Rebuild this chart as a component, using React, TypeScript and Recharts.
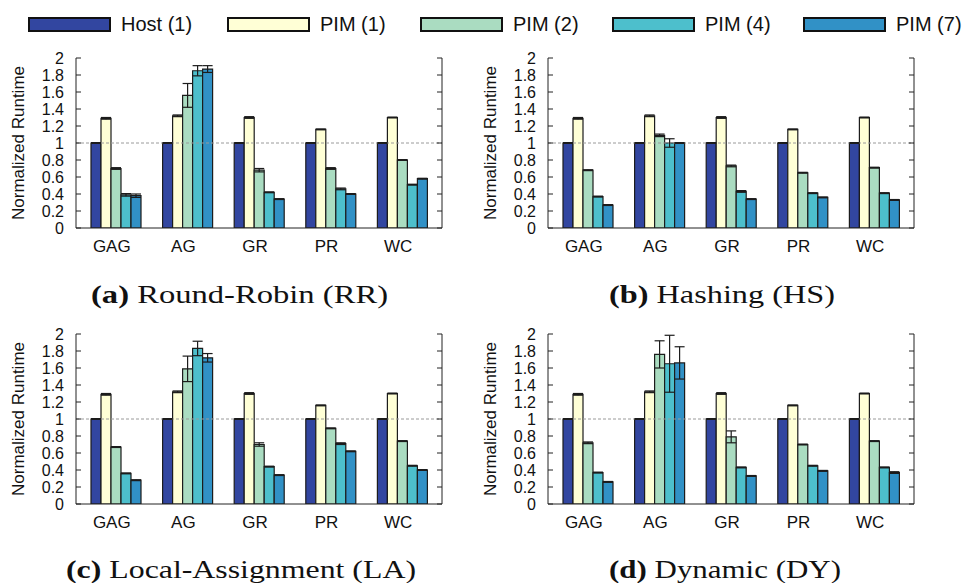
// Normalized runtime of four scheduling policies, 2x2 grid of grouped bar charts
import { BarChart, Bar, XAxis, YAxis, ErrorBar, ReferenceLine, Label } from 'recharts'

const SANS = '"Liberation Sans", Arial, Helvetica, sans-serif'
const SERIF = '"Liberation Serif", "Times New Roman", serif'

const categories = ['GAG', 'AG', 'GR', 'PR', 'WC']
const seriesKeys = ['host', 'pim1', 'pim2', 'pim4', 'pim7']
const seriesNames = ['Host (1)', 'PIM (1)', 'PIM (2)', 'PIM (4)', 'PIM (7)']
const seriesColors = ['#3246A0', '#FFFFD6', '#AADCC1', '#4DBFCC', '#3191C6']

const yTicks = [0, 0.2, 0.4, 0.6, 0.8, 1, 1.2, 1.4, 1.6, 1.8, 2]
const yTickLabels = ['0', '0.2', '0.4', '0.6', '0.8', '1', '1.2', '1.4', '1.6', '1.8', '2']

// (a) Round-Robin
const rrHost = [1, 1, 1, 1, 1]
const rrPim1 = [1.29, 1.32, 1.30, 1.16, 1.30]
const rrPim2 = [0.70, 1.56, 0.68, 0.70, 0.80]
const rrPim4 = [0.39, 1.85, 0.42, 0.46, 0.51]
const rrPim7 = [0.38, 1.87, 0.34, 0.40, 0.58]
const rrErr2 = [0.01, 0.14, 0.02, 0.01, 0.005]
const rrErr4 = [0.015, 0.06, 0.005, 0.01, 0.005]
const rrErr7 = [0.02, 0.04, 0.005, 0.005, 0.005]

// (b) Hashing
const hsHost = [1, 1, 1, 1, 1]
const hsPim1 = [1.29, 1.32, 1.30, 1.16, 1.30]
const hsPim2 = [0.68, 1.09, 0.73, 0.65, 0.71]
const hsPim4 = [0.37, 1.00, 0.43, 0.41, 0.41]
const hsPim7 = [0.27, 1.00, 0.34, 0.36, 0.33]
const hsErr2 = [0.005, 0.015, 0.01, 0.005, 0.005]
const hsErr4 = [0.005, 0.05, 0.01, 0.005, 0.005]
const hsErr7 = [0.005, 0.005, 0.005, 0.005, 0.005]

// (c) Local-Assignment
const laHost = [1, 1, 1, 1, 1]
const laPim1 = [1.29, 1.32, 1.30, 1.16, 1.30]
const laPim2 = [0.67, 1.59, 0.70, 0.89, 0.74]
const laPim4 = [0.36, 1.83, 0.44, 0.71, 0.45]
const laPim7 = [0.28, 1.72, 0.34, 0.62, 0.40]
const laErr2 = [0.005, 0.15, 0.02, 0.005, 0.005]
const laErr4 = [0.005, 0.085, 0.005, 0.01, 0.005]
const laErr7 = [0.005, 0.05, 0.005, 0.005, 0.005]

// (d) Dynamic
const dyHost = [1, 1, 1, 1, 1]
const dyPim1 = [1.29, 1.32, 1.30, 1.16, 1.30]
const dyPim2 = [0.72, 1.76, 0.79, 0.70, 0.74]
const dyPim4 = [0.37, 1.65, 0.43, 0.45, 0.43]
const dyPim7 = [0.26, 1.66, 0.33, 0.39, 0.37]
const dyErr2 = [0.01, 0.16, 0.07, 0.005, 0.005]
const dyErr4 = [0.005, 0.335, 0.005, 0.005, 0.005]
const dyErr7 = [0.005, 0.19, 0.005, 0.005, 0.01]

const hostErr = [0.005, 0.005, 0.005, 0.005, 0.005]
const pim1Err = [0.01, 0.01, 0.01, 0.005, 0.005]

function buildRows(vals: number[][], errs: number[][]) {
  return categories.map((cat, i) => {
    const row: Record<string, number | string> = { cat }
    seriesKeys.forEach((k, s) => {
      row[k] = vals[s][i]
      row[k + 'Err'] = errs[s][i]
    })
    return row
  })
}

const panels = [
  { tag: '(a)', title: ' Round-Robin (RR)', capX: 91, capW: 297,
    rows: buildRows([rrHost, rrPim1, rrPim2, rrPim4, rrPim7], [hostErr, pim1Err, rrErr2, rrErr4, rrErr7]) },
  { tag: '(b)', title: ' Hashing (HS)', capX: 609, capW: 226,
    rows: buildRows([hsHost, hsPim1, hsPim2, hsPim4, hsPim7], [hostErr, pim1Err, hsErr2, hsErr4, hsErr7]) },
  { tag: '(c)', title: ' Local-Assignment (LA)', capX: 66, capW: 350,
    rows: buildRows([laHost, laPim1, laPim2, laPim4, laPim7], [hostErr, pim1Err, laErr2, laErr4, laErr7]) },
  { tag: '(d)', title: ' Dynamic (DY)', capX: 609, capW: 232,
    rows: buildRows([dyHost, dyPim1, dyPim2, dyPim4, dyPim7], [hostErr, pim1Err, dyErr2, dyErr4, dyErr7]) },
]

// layout (chart-local px)
const CW = 460
const CH = 250
const PLOT_L = 76
const PLOT_R = 442
const PLOT_T = 28
const PLOT_H = 170
const legendLeft = [28, 227, 420, 612, 803]

function YTick(props: any) {
  const { y, payload } = props
  const idx = yTicks.findIndex(t => Math.abs(t - payload.value) < 1e-9)
  return (
    <g>
      <line x1={PLOT_L} x2={PLOT_L + 5} y1={y} y2={y} stroke="#222" strokeWidth={1} />
      <line x1={PLOT_R - 5} x2={PLOT_R} y1={y} y2={y} stroke="#222" strokeWidth={1} />
      <text x={64} y={y} dy="0.36em" textAnchor="end" fontSize={16} fontFamily={SANS} fill="#111">
        {yTickLabels[idx]}
      </text>
    </g>
  )
}

function Panel({ rows }: { rows: Record<string, number | string>[] }) {
  return (
    <BarChart width={CW} height={CH} data={rows}
              margin={{ top: PLOT_T, right: CW - PLOT_R - 1, bottom: CH - PLOT_T - PLOT_H - 30, left: 0 }}
              barCategoryGap={10} barGap={0}>
      <XAxis dataKey="cat" tickLine={false} tickSize={0} tickMargin={12} height={30}
             padding={{ left: 5, right: 3 }} axisLine={{ stroke: '#222', strokeWidth: 1 }}
             tick={{ fontSize: 17, fill: '#111', fontFamily: SANS, dx: -5 }} interval={0} />
      <XAxis xAxisId="top" dataKey="cat" orientation="top" height={0} tick={false} tickLine={false}
             padding={{ left: 5, right: 3 }} axisLine={{ stroke: '#222', strokeWidth: 1 }} />
      <YAxis domain={[0, 2]} ticks={yTicks} interval={0} width={PLOT_L} tickLine={false}
             axisLine={{ stroke: '#222', strokeWidth: 1 }} tick={<YTick />} allowDataOverflow>
        <Label content={() => (
          <text transform={`translate(18.5,${PLOT_T + PLOT_H / 2}) rotate(-90)`} textAnchor="middle"
                dy="0.35em" fontSize={17} fontFamily={SANS} fill="#111">Normalized Runtime</text>
        )} />
      </YAxis>
      <YAxis yAxisId="r" orientation="right" domain={[0, 2]} width={1} tick={false} tickLine={false}
             axisLine={{ stroke: '#222', strokeWidth: 1 }} />
      <ReferenceLine y={1} stroke="#9a9a9a" strokeDasharray="3 2" strokeWidth={1} />
      {seriesKeys.map((k, s) => (
        <Bar key={k} dataKey={k} fill={seriesColors[s]} stroke="#1c1c1c" strokeWidth={1.2}
             isAnimationActive={false}>
          <ErrorBar dataKey={k + 'Err'} width={5} stroke="#1c1c1c" strokeWidth={1.2}
                    direction="y" isAnimationActive={false} />
        </Bar>
      ))}
    </BarChart>
  )
}

export default function App() {
  return (
    <div style={{ position: 'absolute', left: 0, top: 0, width: 968, height: 583, background: '#fff', fontFamily: SANS }}>
      {/* legend */}
      {seriesNames.map((n, s) => (
        <div key={n}>
          <div style={{ position: 'absolute', left: legendLeft[s], top: 17, width: 83, height: 15,
                        boxSizing: 'border-box', border: '2px solid #111', background: seriesColors[s] }} />
          <div style={{ position: 'absolute', left: legendLeft[s] + 93, top: 10, fontSize: 20,
                        lineHeight: '28px', color: '#111', whiteSpace: 'nowrap' }}>{n}</div>
        </div>
      ))}
      {panels.map((p, i) => (
        <div key={p.tag} style={{ position: 'absolute', left: (i % 2) * 472, top: 30 + Math.floor(i / 2) * 276 }}>
          <Panel rows={p.rows} />
        </div>
      ))}
      <svg width={968} height={583} style={{ position: 'absolute', left: 0, top: 0, pointerEvents: 'none' }}>
        {panels.map((p, i) => (
          <text key={p.tag} x={p.capX} y={303 + Math.floor(i / 2) * 275} textLength={p.capW}
                lengthAdjust="spacingAndGlyphs" fontSize={25} fontFamily={SERIF} fill="#111">
            <tspan fontWeight="bold">{p.tag}</tspan>{p.title}
          </text>
        ))}
      </svg>
    </div>
  )
}
